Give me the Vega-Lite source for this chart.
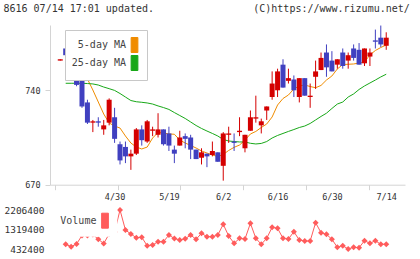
{
  "$schema": "https://vega.github.io/schema/vega-lite/v6.json",
  "width": 355,
  "height": 224,
  "autosize": {"type": "none"},
  "padding": {"left": 50, "top": 25, "right": 15, "bottom": 10},
  "background": "#ffffff",
  "config": {"view": {"stroke": null}, "font": "DejaVu Sans Mono"},
  "data": {"values": [
    {"i":-1,"o":762,"h":763,"l":762,"c":763},
    {"i":0,"o":771,"h":777,"l":765,"c":766,"ma5":756.3,"ma25":745.2,"vol":646000},
    {"i":1,"o":765,"h":767,"l":754,"c":755,"ma5":757.6,"ma25":745.2,"vol":537000},
    {"i":2,"o":763,"h":765,"l":743,"c":744,"ma5":756.5,"ma25":745.2,"vol":660000},
    {"i":3,"o":750,"h":753,"l":727,"c":728,"ma5":752.8,"ma25":745.2,"vol":1046000},
    {"i":4,"o":731,"h":733,"l":715,"c":716,"ma5":748.4,"ma25":745.0,"vol":1046000},
    {"i":5,"o":716,"h":718,"l":709,"c":717,"ma5":740.2,"ma25":744.7,"vol":1092000},
    {"i":6,"o":717,"h":720,"l":713,"c":716,"ma5":731.3,"ma25":743.9,"vol":874000},
    {"i":7,"o":711,"h":718,"l":707,"c":714,"ma5":722.4,"ma25":742.4,"vol":683000},
    {"i":8,"o":716,"h":734,"l":714,"c":733,"ma5":715.8,"ma25":741.2,"vol":1115000},
    {"i":9,"o":720,"h":727,"l":701,"c":704,"ma5":713.5,"ma25":739.9,"vol":1206000},
    {"i":10,"o":700,"h":702,"l":685,"c":688,"ma5":712.0,"ma25":737.6,"vol":2206400},
    {"i":11,"o":698,"h":702,"l":686,"c":691,"ma5":706.1,"ma25":735.0,"vol":1297000},
    {"i":12,"o":691,"h":696,"l":681,"c":693,"ma5":700.9,"ma25":732.4,"vol":1115000},
    {"i":13,"o":693,"h":712,"l":692,"c":711,"ma5":697.9,"ma25":731.5,"vol":946000},
    {"i":14,"o":711,"h":714,"l":699,"c":703,"ma5":696.5,"ma25":731.1,"vol":965000},
    {"i":15,"o":702,"h":718,"l":701,"c":717,"ma5":697.9,"ma25":730.6,"vol":583000},
    {"i":16,"o":710,"h":713,"l":706,"c":711,"ma5":704.6,"ma25":729.8,"vol":614000},
    {"i":17,"o":707,"h":723,"l":705,"c":711,"ma5":708.7,"ma25":728.4,"vol":764000},
    {"i":18,"o":711,"h":711,"l":699,"c":700,"ma5":708.3,"ma25":727.2,"vol":764000},
    {"i":19,"o":708,"h":713,"l":695,"c":699,"ma5":707.6,"ma25":725.8,"vol":1069000},
    {"i":20,"o":696,"h":699,"l":686,"c":693,"ma5":707.4,"ma25":723.5,"vol":910000},
    {"i":21,"o":699,"h":710,"l":699,"c":705,"ma5":703.1,"ma25":721.3,"vol":842000},
    {"i":22,"o":706,"h":708,"l":697,"c":704,"ma5":700.9,"ma25":719.1,"vol":896000},
    {"i":23,"o":705,"h":707,"l":689,"c":696,"ma5":699.1,"ma25":716.5,"vol":1069000},
    {"i":24,"o":696,"h":696,"l":689,"c":689,"ma5":697.2,"ma25":713.9,"vol":874000},
    {"i":25,"o":690,"h":697,"l":685,"c":694,"ma5":695.0,"ma25":711.7,"vol":1147000},
    {"i":26,"o":693,"h":693,"l":683,"c":691,"ma5":693.5,"ma25":709.8,"vol":992000},
    {"i":27,"o":692,"h":702,"l":691,"c":695,"ma5":692.0,"ma25":708.0,"vol":992000},
    {"i":28,"o":694,"h":694,"l":687,"c":687,"ma5":690.9,"ma25":706.1,"vol":1069000},
    {"i":29,"o":684,"h":709,"l":673,"c":708,"ma5":692.4,"ma25":703.5,"vol":1556000},
    {"i":30,"o":707,"h":713,"l":701,"c":708,"ma5":695.4,"ma25":702.4,"vol":1024000},
    {"i":31,"o":702,"h":708,"l":695,"c":701,"ma5":697.7,"ma25":702.0,"vol":692000},
    {"i":32,"o":709,"h":720,"l":706,"c":710,"ma5":699.4,"ma25":701.7,"vol":919000},
    {"i":33,"o":697,"h":707,"l":694,"c":707,"ma5":703.1,"ma25":701.7,"vol":887000},
    {"i":34,"o":710,"h":725,"l":710,"c":720,"ma5":707.6,"ma25":700.7,"vol":1601000},
    {"i":35,"o":719,"h":736,"l":716,"c":720,"ma5":709.5,"ma25":700.2,"vol":919000},
    {"i":36,"o":714,"h":719,"l":708,"c":717,"ma5":712.4,"ma25":700.6,"vol":646000},
    {"i":37,"o":725,"h":728,"l":718,"c":728,"ma5":715.0,"ma25":702.0,"vol":919000},
    {"i":38,"o":735,"h":754,"l":733,"c":745,"ma5":720.2,"ma25":704.6,"vol":1419000},
    {"i":39,"o":740,"h":756,"l":735,"c":754,"ma5":729.1,"ma25":706.5,"vol":1374000},
    {"i":40,"o":759,"h":763,"l":742,"c":742,"ma5":733.9,"ma25":708.0,"vol":919000},
    {"i":41,"o":747,"h":756,"l":745,"c":749,"ma5":736.5,"ma25":709.5,"vol":887000},
    {"i":42,"o":748,"h":751,"l":735,"c":740,"ma5":741.0,"ma25":710.9,"vol":1219000},
    {"i":43,"o":735,"h":749,"l":731,"c":749,"ma5":743.2,"ma25":712.4,"vol":842000},
    {"i":44,"o":749,"h":749,"l":736,"c":736,"ma5":743.9,"ma25":713.5,"vol":796000},
    {"i":45,"o":735,"h":745,"l":727,"c":736,"ma5":742.8,"ma25":715.4,"vol":796000},
    {"i":46,"o":750,"h":762,"l":741,"c":754,"ma5":741.9,"ma25":718.0,"vol":1629000},
    {"i":47,"o":755,"h":768,"l":755,"c":764,"ma5":743.6,"ma25":720.6,"vol":1174000},
    {"i":48,"o":768,"h":774,"l":750,"c":757,"ma5":747.6,"ma25":723.0,"vol":1101000},
    {"i":49,"o":762,"h":769,"l":754,"c":754,"ma5":750.6,"ma25":726.5,"vol":874000},
    {"i":50,"o":759,"h":763,"l":756,"c":763,"ma5":755.8,"ma25":729.8,"vol":510000},
    {"i":51,"o":768,"h":771,"l":756,"c":758,"ma5":759.1,"ma25":731.3,"vol":583000},
    {"i":52,"o":762,"h":768,"l":756,"c":766,"ma5":759.3,"ma25":735.0,"vol":432400},
    {"i":53,"o":771,"h":774,"l":762,"c":764,"ma5":759.5,"ma25":737.3,"vol":510000},
    {"i":54,"o":770,"h":775,"l":759,"c":759,"ma5":760.2,"ma25":740.6,"vol":492000},
    {"i":55,"o":760,"h":771,"l":758,"c":771,"ma5":761.0,"ma25":743.2,"vol":810000},
    {"i":56,"o":765,"h":771,"l":758,"c":768,"ma5":766.2,"ma25":745.4,"vol":692000},
    {"i":57,"o":777,"h":785,"l":771,"c":776,"ma5":769.5,"ma25":747.6,"vol":810000},
    {"i":58,"o":779,"h":788,"l":772,"c":774,"ma5":771.7,"ma25":749.9,"vol":646000},
    {"i":59,"o":773,"h":783,"l":770,"c":779,"ma5":773.6,"ma25":751.9,"vol":646000}
  ]},
  "layer": [
    {
      "layer": [
        {
          "mark": {"type": "line", "strokeWidth": 1},
          "encoding": {
            "x": {"field": "i", "type": "quantitative", "scale": {"domain": [-1.968, 61.535], "nice": false, "zero": false},
              "axis": {
                "values": [-1.968, 3.805, 9.578, 15.351, 21.124, 26.897, 32.67, 38.443, 44.216, 49.989, 55.762, 61.53],
                "labels": false,
                "offset": -64.3, "grid": false, "title": null,
                "domainColor": "#d4d4d4", "tickColor": "#d4d4d4", "tickSize": 5
              }},
            "y": {"field": "ma5", "type": "quantitative", "title": "8616 07/14 17:01 updated.",
              "scale": {"domain": [670, 788.4], "range": [159.7, 0], "nice": false, "zero": false},
              "axis": {
                "values": [670, 740], "orient": "left", "grid": false,
                "domainColor": "#d4d4d4", "tickColor": "#d4d4d4", "tickSize": 5, "labelPadding": 5,
                "labelFont": "DejaVu Sans Mono", "labelFontSize": 8.5, "labelColor": "#333333", "labelFlush": false,
                "titleAngle": 0, "titleAlign": "left", "titleBaseline": "middle", "titleX": -47, "titleY": -16.7,
                "titleFont": "DejaVu Sans Mono", "titleFontSize": 10, "titleFontWeight": "normal", "titleColor": "#333333"
              }},
            "color": {"datum": "5-day MA", "type": "nominal",
              "scale": {"domain": ["5-day MA", "25-day MA"], "range": ["#f08c00", "#18a818"]},
              "legend": {
                "orient": "none", "legendX": 15, "legendY": 5, "title": null, "direction": "vertical",
                "fillColor": "#ffffff", "strokeColor": "#c8c8c8", "padding": 7,
                "symbolType": "M-0.45,-1L0.45,-1L0.45,1L-0.45,1Z", "symbolSize": 225,
                "symbolStrokeColor": "#333333", "symbolStrokeWidth": 1,
                "symbolOffset": 54.5, "labelOffset": -16.5, "labelAlign": "right",
                "labelFont": "DejaVu Sans Mono", "labelFontSize": 10, "labelColor": "#444444",
                "rowPadding": -4,
                "encode": {
                  "symbols": {"update": {
                    "fill": {"signal": "datum.value === '5-day MA' ? '#f08c00' : '#18a818'"},
                    "fillOpacity": {"value": 1}, "stroke": {"value": "#333333"}, "strokeWidth": {"value": 1}, "opacity": {"value": 1}}}
                }
              }}
          }
        },
        {
          "mark": {"type": "line", "strokeWidth": 1},
          "encoding": {
            "x": {"field": "i", "type": "quantitative"},
            "y": {"field": "ma25", "type": "quantitative", "title": "8616 07/14 17:01 updated."},
            "color": {"datum": "25-day MA", "type": "nominal"}
          }
        },
        {
          "mark": {"type": "rule", "strokeWidth": 1},
          "encoding": {
            "x": {"field": "i", "type": "quantitative"},
            "y": {"field": "l", "type": "quantitative", "title": "8616 07/14 17:01 updated."},
            "y2": {"field": "h"},
            "color": {"condition": {"test": "datum.c >= datum.o", "value": "#d40000"}, "value": "#4040c0"}
          }
        },
        {
          "mark": {"type": "bar", "width": 5},
          "encoding": {
            "x": {"field": "i", "type": "quantitative"},
            "y": {"field": "o", "type": "quantitative", "title": "8616 07/14 17:01 updated."},
            "y2": {"field": "c"},
            "color": {"condition": {"test": "datum.c >= datum.o", "value": "#d40000"}, "value": "#4040c0"}
          }
        }
      ]
    },
    {
      "layer": [
        {
          "mark": {"type": "line", "strokeWidth": 1},
          "encoding": {
            "x": {"field": "i", "type": "quantitative",
              "axis": {
                "orient": "bottom", "values": [9, 19, 29, 39, 49, 59],
                "labelExpr": "datum.value == 9 ? '4/30' : datum.value == 19 ? '5/19' : datum.value == 29 ? '6/2' : datum.value == 39 ? '6/16' : datum.value == 49 ? '6/30' : '7/14'",
                "offset": -64.3, "grid": false, "title": null, "domain": false, "ticks": false, "tickSize": 5,
                "labelPadding": 8, "labelFont": "DejaVu Sans Mono", "labelFontSize": 8.5, "labelColor": "#333333",
                "labelFlush": false, "labelOverlap": false, "labelBound": false
              }},
            "y": {"field": "vol", "type": "quantitative", "title": "(C)https://www.rizumu.net/",
              "scale": {"domain": [432400, 2206400], "range": [224, 185], "nice": false, "zero": false},
              "axis": {
                "orient": "left", "values": [432400, 1319400, 2206400], "format": "d",
                "domain": false, "ticks": false, "tickSize": 0, "grid": false, "labelPadding": 6,
                "labelFont": "DejaVu Sans Mono", "labelFontSize": 9.5, "labelColor": "#333333", "labelFlush": false,
                "titleAngle": 0, "titleAlign": "right", "titleBaseline": "middle", "titleX": 359.3, "titleY": -16.7,
                "titleFont": "DejaVu Sans Mono", "titleFontSize": 10, "titleFontWeight": "normal", "titleColor": "#333333"
              }},
            "color": {"datum": "Volume", "type": "nominal",
              "scale": {"domain": ["Volume"], "range": ["#ff5c5c"]},
              "legend": {
                "orient": "none", "legendX": 3.3, "legendY": 181.7, "title": null,
                "fillColor": "#ffffff", "padding": 6,
                "symbolType": "M-0.45,-1L0.45,-1L0.45,1L-0.45,1Z", "symbolSize": 225,
                "symbolStrokeColor": "#333333", "symbolStrokeWidth": 1,
                "symbolOffset": 37.7, "labelOffset": -52.7,
                "labelFont": "DejaVu Sans Mono", "labelFontSize": 10, "labelColor": "#444444",
                "encode": {
                  "symbols": {"update": {
                    "fill": {"value": "#ff5c5c"}, "fillOpacity": {"value": 1},
                    "stroke": {"value": "#333333"}, "strokeWidth": {"value": 1}, "opacity": {"value": 1}}}
                }
              }}
          }
        },
        {
          "mark": {"type": "point", "shape": "diamond", "filled": true, "size": 36, "opacity": 1},
          "encoding": {
            "x": {"field": "i", "type": "quantitative"},
            "y": {"field": "vol", "type": "quantitative", "title": "(C)https://www.rizumu.net/"},
            "color": {"datum": "Volume", "type": "nominal"}
          }
        }
      ]
    }
  ],
  "resolve": {"scale": {"y": "independent", "color": "independent"}, "axis": {"x": "independent"}}
}
